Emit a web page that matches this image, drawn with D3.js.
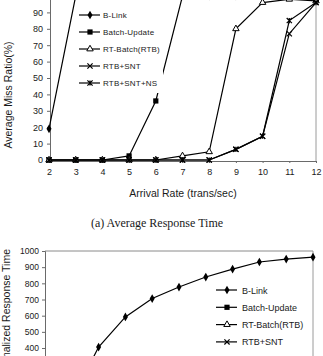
<!DOCTYPE html>
<html>
<head>
<meta charset="utf-8">
<script src="https://cdn.jsdelivr.net/npm/d3@7/dist/d3.min.js"></script>
<style>
  html, body { margin: 0; padding: 0; background: #fff; }
  svg { display: block; }
  text { font-family: "Liberation Sans", Arial, sans-serif; fill: #1a1a1a; }
  .caption { font-family: "Liberation Serif", "Times New Roman", serif; }
</style>
</head>
<body>
<svg id="chart" width="323" height="356"></svg>
<script>
(function() {
    // x categories (arrival rate)
    const rates = [2, 3, 4, 5, 6, 7, 8, 9, 10, 11, 12];
    const seriesNames = ['B-Link', 'Batch-Update', 'RT-Batch(RTB)', 'RTB+SNT', 'RTB+SNT+NS'];
    const markers = ['diamond', 'square', 'triangle', 'x', 'star'];

    // top chart: average miss ratio (%)
    const missBLink      = [19, 100, 100, 100, 100, 100, 100, 100, 100, 100, 100];
    const missBatch      = [0, 0, 0, 2.5, 36, 100, 100, 100, 100, 100, 100];
    const missRTB        = [0, 0, 0, 0, 0, 2.5, 5, 80, 96, 98, 97];
    const missRTBSNT     = [0, 0, 0, 0, 0, 0, 0, 6.5, 14.5, 77, 96];
    const missRTBSNTNS   = [0, 0, 0, 0, 0, 0, 0, 6.5, 14.5, 85, 96];
    const missTicks = [0, 10, 20, 30, 40, 50, 60, 70, 80, 90];

    // bottom chart: normalized response time (only B-Link visible in the crop)
    const respRates = [3, 4, 5, 6, 7, 8, 9, 10, 11, 12];
    const respBLink = [80, 406, 592, 706, 777, 839, 888, 932, 950, 962];
    const respTicks = [400, 500, 600, 700, 800, 900, 1000];

    const svg = d3.select('#chart');
    const axisColor = '#6a6a6a';

    function drawMarker(g, type, cx, cy) {
        if (type === 'diamond') {
            g.append('path').attr('d', d3.symbol(d3.symbolDiamond, 22)())
                .attr('transform', `translate(${cx},${cy})`).attr('fill', '#000');
        } else if (type === 'square') {
            g.append('rect').attr('x', cx - 2.6).attr('y', cy - 2.6)
                .attr('width', 5.2).attr('height', 5.2).attr('fill', '#000');
        } else if (type === 'triangle') {
            g.append('path').attr('d', d3.symbol(d3.symbolTriangle, 18)())
                .attr('transform', `translate(${cx},${cy})`)
                .attr('fill', '#fff').attr('stroke', '#000').attr('stroke-width', 1);
        } else {
            const s = 2.6;
            let d = `M${cx - s},${cy - s}L${cx + s},${cy + s}M${cx - s},${cy + s}L${cx + s},${cy - s}`;
            if (type === 'star') d += `M${cx},${cy - s}L${cx},${cy + s}`;
            g.append('path').attr('d', d).attr('stroke', '#000').attr('stroke-width', 1.2).attr('fill', 'none');
        }
    }

    function drawSeries(g, xs, ys, x, y, type) {
        const line = d3.line().x((d, i) => x(xs[i])).y(d => y(d));
        g.append('path').datum(ys).attr('d', line)
            .attr('fill', 'none').attr('stroke', '#000').attr('stroke-width', 1.2);
        ys.forEach((v, i) => drawMarker(g, type, x(xs[i]), y(v)));
    }

    // ---------- top chart ----------
    const x1 = d3.scaleLinear().domain([2, 12]).range([49, 316]);
    const y1 = d3.scaleLinear().domain([0, 100]).range([160, -4]);
    const top = svg.append('g');

    top.append('line').attr('x1', 316).attr('x2', 316).attr('y1', -4).attr('y2', 161)
        .attr('stroke', '#9a9a9a').attr('stroke-width', 1);

    const yAxis1 = top.append('g').attr('transform', 'translate(50,0)')
        .call(d3.axisLeft(y1).tickValues(missTicks).tickSize(3).tickPadding(4));
    const xAxis1 = top.append('g').attr('transform', 'translate(0,161)')
        .call(d3.axisBottom(x1).tickValues(rates).tickSize(2).tickPadding(6).tickFormat(d3.format('d')));
    [yAxis1, xAxis1].forEach(a => {
        a.select('.domain').attr('stroke', axisColor);
        a.selectAll('.tick line').attr('stroke', axisColor);
        a.selectAll('.tick text').style('font-size', '9px').attr('fill', '#222');
    });

    const allMiss = [missBLink, missBatch, missRTB, missRTBSNT, missRTBSNTNS];
    const series1 = top.append('g');
    allMiss.forEach((vals, k) => drawSeries(series1, rates, vals, x1, y1, markers[k]));

    // legend (white box hides the lines behind it)
    const leg1 = top.append('g');
    leg1.append('rect').attr('x', 77).attr('y', -2).attr('width', 86).attr('height', 95).attr('fill', '#fff');
    seriesNames.forEach((name, k) => {
        const ly = 15 + k * 17;
        leg1.append('line').attr('x1', 79).attr('x2', 100).attr('y1', ly).attr('y2', ly)
            .attr('stroke', '#000').attr('stroke-width', 1.2);
        drawMarker(leg1, markers[k], 90, ly);
        leg1.append('text').attr('x', 103).attr('y', ly + 3).style('font-size', '8px')
            .attr('letter-spacing', '0.2px').text(name);
    });

    top.append('text').attr('x', 183).attr('y', 197).attr('text-anchor', 'middle')
        .style('font-size', '10.5px').text('Arrival Rate (trans/sec)');
    top.append('text').attr('transform', 'translate(12,95) rotate(-90)').attr('text-anchor', 'middle')
        .style('font-size', '10.5px').text('Average Miss Ratio(%)');

    svg.append('text').attr('class', 'caption').attr('x', 157).attr('y', 227)
        .attr('text-anchor', 'middle').style('font-size', '12px').text('(a) Average Response Time');

    // ---------- bottom chart ----------
    const x2 = d3.scaleLinear().domain([2, 12]).range([45, 313]);
    const y2 = d3.scaleLinear().domain([0, 1000]).range([412.7, 251]);
    const bot = svg.append('g');

    bot.append('line').attr('x1', 45).attr('x2', 313).attr('y1', 251).attr('y2', 251)
        .attr('stroke', '#8a8a8a');
    bot.append('line').attr('x1', 313).attr('x2', 313).attr('y1', 251).attr('y2', 420)
        .attr('stroke', '#9a9a9a');

    const yAxis2 = bot.append('g').attr('transform', 'translate(45,0)')
        .call(d3.axisLeft(y2).tickValues(respTicks).tickSize(3).tickPadding(3).tickFormat(d3.format('d')));
    yAxis2.select('.domain').attr('stroke', axisColor);
    yAxis2.selectAll('.tick line').attr('stroke', axisColor);
    yAxis2.selectAll('.tick text').style('font-size', '8.5px').attr('fill', '#222');

    drawSeries(bot.append('g'), respRates, respBLink, x2, y2, 'diamond');

    const leg2 = bot.append('g');
    leg2.append('rect').attr('x', 213).attr('y', 281).attr('width', 99).attr('height', 80).attr('fill', '#fff');
    seriesNames.forEach((name, k) => {
        const ly = 290 + k * 17.3;
        leg2.append('line').attr('x1', 216).attr('x2', 237).attr('y1', ly).attr('y2', ly)
            .attr('stroke', '#000').attr('stroke-width', 1.2);
        drawMarker(leg2, markers[k], 227, ly);
        leg2.append('text').attr('x', 242).attr('y', ly + 3.5).style('font-size', '9px').text(name);
    });

    bot.append('text').attr('transform', 'translate(10,249) rotate(-90)').attr('text-anchor', 'end')
        .style('font-size', '10.5px').text('Normalized Response Time');
})();
</script>
</body>
</html>
